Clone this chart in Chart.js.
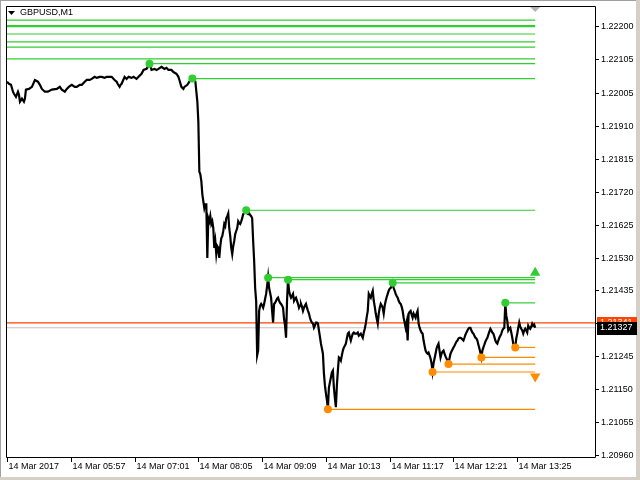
<!DOCTYPE html>
<html><head><meta charset="utf-8">
<script src="https://cdn.jsdelivr.net/npm/chart.js@4.4.1/dist/chart.umd.min.js"></script>
<style>html,body{margin:0;padding:0;background:#fff;overflow:hidden}canvas{display:block}</style>
</head><body>
<div style="width:640px;height:480px;position:relative"><canvas id="c" width="640" height="480"></canvas></div>
<script>
const symbolTitle = "GBPUSD,M1";
// minutes after 04:53 (first bar), sparse part of the series
const sparseMinutes = [0,2,4,6,7,9,11,12,13,15,17,18,19,22,25,28,31,33,35,38,41,45,50,53,55,58,60,62,65,68,70,73,75,78,80,83,85,88,90,93,95,98,100,103,105,108,110,111,113,114,115,118,120,122,125,127,130,132,135,137,140,142,143,145,148,150,152,155,158,160,162,165,167,170,172,173,175,177,178,181,183,186,188,189,190,191];
const sparseCloses = [1.22039,1.22033,1.22030,1.22010,1.22004,1.21995,1.22010,1.22001,1.21981,1.21990,1.21981,1.21990,1.22016,1.22018,1.22024,1.22044,1.22039,1.22030,1.22018,1.22010,1.22010,1.22016,1.22018,1.22024,1.22016,1.22010,1.22018,1.22024,1.22030,1.22024,1.22024,1.22030,1.22030,1.22039,1.22044,1.22044,1.22047,1.22053,1.22050,1.22053,1.22053,1.22050,1.22053,1.22053,1.22053,1.22044,1.22039,1.22033,1.22024,1.22030,1.22033,1.22053,1.22047,1.22053,1.22050,1.22053,1.22047,1.22053,1.22062,1.22073,1.22076,1.22085,1.22093,1.22073,1.22076,1.22073,1.22076,1.22082,1.22076,1.22079,1.22073,1.22073,1.22067,1.22062,1.22053,1.22044,1.22024,1.22018,1.22024,1.22030,1.22039,1.22050,1.22044,1.22039,1.22010,1.21981];
// one close per minute from minute 192 on
const denseStartMinute = 192;
const denseCloses = [
1.21923,1.21779,1.21771,1.21751,1.21713,1.21693,1.21673,1.21684,1.21684,1.21529,
1.21644,1.21635,1.21650,1.21627,1.21635,1.21615,1.21558,1.21578,1.21540,1.21563,
1.21558,1.21529,1.21563,1.21586,1.21592,1.21607,1.21627,1.21621,1.21644,1.21650,
1.21658,1.21615,1.21592,1.21558,1.21540,1.21563,1.21578,1.21598,1.21607,1.21615,
1.21635,1.21630,1.21627,1.21635,1.21644,1.21656,1.21658,1.21664,1.21667,1.21658,
1.21656,1.21658,1.21653,1.21650,1.21644,1.21578,1.21520,1.21442,1.21405,1.21247,
1.21261,1.21376,1.21391,1.21396,1.21391,1.21385,1.21396,1.21411,1.21425,1.21448,
1.21474,1.21442,1.21428,1.21414,1.21376,1.21342,1.21396,1.21399,1.21405,1.21411,
1.21414,1.21405,1.21399,1.21396,1.21391,1.21385,1.21353,1.21333,1.21298,1.21405,
1.21468,1.21434,1.21422,1.21414,1.21419,1.21425,1.21405,1.21411,1.21414,1.21405,
1.21396,1.21385,1.21391,1.21396,1.21388,1.21376,1.21385,1.21391,1.21396,1.21385,
1.21376,1.21368,1.21356,1.21347,1.21342,1.21339,1.21327,1.21333,1.21342,1.21342,
1.21339,1.21319,1.21301,1.21281,1.21267,1.21252,1.21195,1.21160,1.21137,1.21117,
1.21094,1.21154,1.21169,1.21183,1.21198,1.21203,1.21154,1.21123,1.21097,1.21160,
1.21203,1.21241,1.21238,1.21232,1.21247,1.21261,1.21270,1.21275,1.21281,1.21296,
1.21310,1.21313,1.21301,1.21290,1.21301,1.21310,1.21313,1.21310,1.21310,1.21310,
1.21313,1.21304,1.21307,1.21310,1.21304,1.21298,1.21313,1.21324,1.21339,1.21359,
1.21376,1.21425,1.21419,1.21414,1.21425,1.21434,1.21405,1.21388,1.21368,1.21353,
1.21339,1.21368,1.21385,1.21396,1.21391,1.21385,1.21368,1.21391,1.21405,1.21416,
1.21425,1.21434,1.21440,1.21442,1.21448,1.21457,1.21442,1.21434,1.21425,1.21419,
1.21414,1.21405,1.21399,1.21396,1.21388,1.21376,1.21356,1.21342,1.21327,1.21342,
1.21290,1.21368,1.21373,1.21376,1.21365,1.21356,1.21368,1.21362,1.21356,1.21368,
1.21376,1.21339,1.21327,1.21319,1.21313,1.21310,1.21290,1.21275,1.21261,1.21255,
1.21252,1.21255,1.21247,1.21238,1.21224,1.21200,1.21224,1.21238,1.21252,1.21267,
1.21275,1.21281,1.21261,1.21241,1.21252,1.21258,1.21261,1.21252,1.21244,1.21238,
1.21232,1.21224,1.21238,1.21252,1.21258,1.21264,1.21270,1.21275,1.21281,1.21287,
1.21290,1.21296,1.21298,1.21298,1.21296,1.21293,1.21290,1.21298,1.21307,1.21313,
1.21319,1.21324,1.21327,1.21327,1.21319,1.21313,1.21310,1.21304,1.21298,1.21296,
1.21290,1.21278,1.21267,1.21255,1.21241,1.21261,1.21270,1.21278,1.21287,1.21293,
1.21298,1.21307,1.21316,1.21324,1.21319,1.21313,1.21310,1.21301,1.21290,1.21284,
1.21281,1.21290,1.21298,1.21304,1.21310,1.21319,1.21324,1.21327,1.21399,1.21362,
1.21347,1.21319,1.21324,1.21327,1.21313,1.21298,1.21281,1.21275,1.21270,1.21296,
1.21310,1.21327,1.21342,1.21330,1.21324,1.21319,1.21310,1.21319,1.21324,1.21319,
1.21313,1.21333,1.21327,1.21324,1.21330,1.21339,1.21333,1.21336,1.21327];

const upperLevels = [1.22217,1.22200,1.22177,1.22154,1.22139,1.22105];
const resistMinutes = [143,186,240,262,282,387,500];
const resistPrices = [1.22091,1.22048,1.21667,1.21472,1.21466,1.21457,1.21399];
const supportMinutes = [322,427,443,476,510];
const supportPrices = [1.21091,1.21199,1.21222,1.21241,1.21270];
const levelEndMinute = 530;
const arrowUpPrice = 1.21486;
const arrowDownPrice = 1.21186;
const bidPrice = 1.21327;
const askPrice = 1.21341;
const yTickValues = [1.22200,1.22105,1.22005,1.21910,1.21815,1.21720,1.21625,1.21530,1.21435,1.21340,1.21245,1.21150,1.21055,1.20960];
const xTickMinutes = [0,64,128,192,256,320,384,448,512];
const xTickLabels = ["14 Mar 2017","14 Mar 05:57","14 Mar 07:01","14 Mar 08:05","14 Mar 09:09","14 Mar 10:13","14 Mar 11:17","14 Mar 12:21","14 Mar 13:25"];

const X_MIN = -1, X_MAX = 590, Y_MIN = 1.20953, Y_MAX = 1.22258;
const GREEN = '#32cd32', ORANGE = '#ff8c00', RED = '#ff4500';
const FONT = '9px "Liberation Sans", Arial, sans-serif';

const priceData = [];
sparseMinutes.forEach((m, i) => priceData.push({x: m, y: sparseCloses[i]}));
denseCloses.forEach((v, i) => priceData.push({x: denseStartMinute + i, y: v}));

const datasets = [];
// markers on top
datasets.push({data: resistMinutes.map((m,i)=>({x:m,y:resistPrices[i]})), showLine:false, pointRadius:4, pointBackgroundColor:GREEN, pointBorderWidth:0, order:0});
datasets.push({data: supportMinutes.map((m,i)=>({x:m,y:supportPrices[i]})), showLine:false, pointRadius:4, pointBackgroundColor:ORANGE, pointBorderWidth:0, order:0});
datasets.push({data:[{x:levelEndMinute,y:arrowUpPrice}], showLine:false, pointStyle:'triangle', pointRadius:6, pointBackgroundColor:GREEN, pointBorderWidth:0, order:0});
datasets.push({data:[{x:levelEndMinute,y:arrowDownPrice}], showLine:false, pointStyle:'triangle', rotation:180, pointRadius:6, pointBackgroundColor:ORANGE, pointBorderWidth:0, order:0});
// price
datasets.push({data: priceData, showLine:true, borderColor:'#000', borderWidth:2.2, pointRadius:0, tension:0, order:1});
// levels
upperLevels.forEach((p,i) => datasets.push({data:[{x:X_MIN,y:p},{x:levelEndMinute,y:p}], showLine:true, borderColor:GREEN, borderWidth: i===1?2.2:1.2, pointRadius:0, order:2}));
resistMinutes.forEach((m,i) => datasets.push({data:[{x:m,y:resistPrices[i]},{x:levelEndMinute,y:resistPrices[i]}], showLine:true, borderColor:GREEN, borderWidth:1.2, pointRadius:0, order:2}));
supportMinutes.forEach((m,i) => datasets.push({data:[{x:m,y:supportPrices[i]},{x:levelEndMinute,y:supportPrices[i]}], showLine:true, borderColor:ORANGE, borderWidth:1.2, pointRadius:0, order:2}));
// bid / ask
datasets.push({data:[{x:X_MIN,y:askPrice},{x:X_MAX,y:askPrice}], showLine:true, borderColor:RED, borderWidth:1.2, pointRadius:0, order:3});
datasets.push({data:[{x:X_MIN,y:bidPrice},{x:X_MAX,y:bidPrice}], showLine:true, borderColor:'#c0c0c0', borderWidth:1.2, pointRadius:0, order:3});

const decor = {
  id: 'decor',
  beforeDraw(chart) {
    const c = chart.ctx;
    c.save(); c.fillStyle = '#fff'; c.fillRect(0,0,chart.width,chart.height); c.restore();
  },
  afterDraw(chart) {
    const c = chart.ctx, a = chart.chartArea, xs = chart.scales.x, ys = chart.scales.y;
    c.save();
    // window frame
    c.fillStyle = '#a0a0a0'; c.fillRect(0,0,640,1); c.fillRect(0,0,1,480);
    c.fillStyle = '#d4d0c8'; c.fillRect(636,0,4,480); c.fillRect(0,477,640,3);
    // plot frame
    c.strokeStyle = '#000'; c.lineWidth = 1;
    c.beginPath();
    c.moveTo(a.left+0.5, a.top+0.5); c.lineTo(a.right+0.5, a.top+0.5);
    c.lineTo(a.right+0.5, a.bottom+0.5); c.lineTo(a.left+0.5, a.bottom+0.5); c.closePath();
    c.stroke();
    // y ticks
    c.font = FONT; c.fillStyle = '#000'; c.textBaseline = 'middle'; c.textAlign = 'left';
    yTickValues.forEach(v => {
      const y = Math.round(ys.getPixelForValue(v)) + 0.5;
      c.beginPath(); c.moveTo(a.right, y); c.lineTo(a.right+4, y); c.stroke();
      c.fillText(v.toFixed(5), a.right+6, y);
    });
    // x ticks
    c.textBaseline = 'top';
    xTickMinutes.forEach((m,i) => {
      const x = Math.round(xs.getPixelForValue(m)) + 0.5;
      c.beginPath(); c.moveTo(x, a.bottom); c.lineTo(x, a.bottom+5); c.stroke();
      c.fillText(xTickLabels[i], x+1, a.bottom+5);
    });
    // chart shift marker
    const sx = xs.getPixelForValue(levelEndMinute);
    c.fillStyle = '#b4b4b4';
    c.beginPath(); c.moveTo(sx-5, a.top+1); c.lineTo(sx+5, a.top+1); c.lineTo(sx, a.top+6); c.closePath(); c.fill();
    // price labels
    c.textBaseline = 'middle';
    const ay = ys.getPixelForValue(askPrice), by = ys.getPixelForValue(bidPrice);
    c.fillStyle = RED; c.fillRect(a.right+2, Math.round(ay)-6, 40, 13);
    c.fillStyle = '#fff'; c.fillText(askPrice.toFixed(5), a.right+5, ay);
    c.fillStyle = '#000'; c.fillRect(a.right+2, Math.round(by)-6, 40, 13);
    c.fillStyle = '#fff'; c.fillText(bidPrice.toFixed(5), a.right+5, by);
    // title
    c.fillStyle = '#000';
    c.beginPath(); c.moveTo(8, 11); c.lineTo(15, 11); c.lineTo(11.5, 15); c.closePath(); c.fill();
    c.textBaseline = 'middle';
    c.fillText(symbolTitle, 20, 13);
    c.restore();
  }
};

new Chart(document.getElementById('c'), {
  type: 'scatter',
  data: { datasets },
  options: {
    responsive: false, animation: false, devicePixelRatio: 1,
    layout: { padding: { left: 4, top: 4, right: 45, bottom: 23 } },
    plugins: { legend: { display: false }, tooltip: { enabled: false } },
    scales: {
      x: { type: 'linear', min: X_MIN, max: X_MAX, display: false },
      y: { type: 'linear', min: Y_MIN, max: Y_MAX, display: false }
    },
    elements: { line: { tension: 0 } }
  },
  plugins: [decor]
});
</script>
</body></html>
